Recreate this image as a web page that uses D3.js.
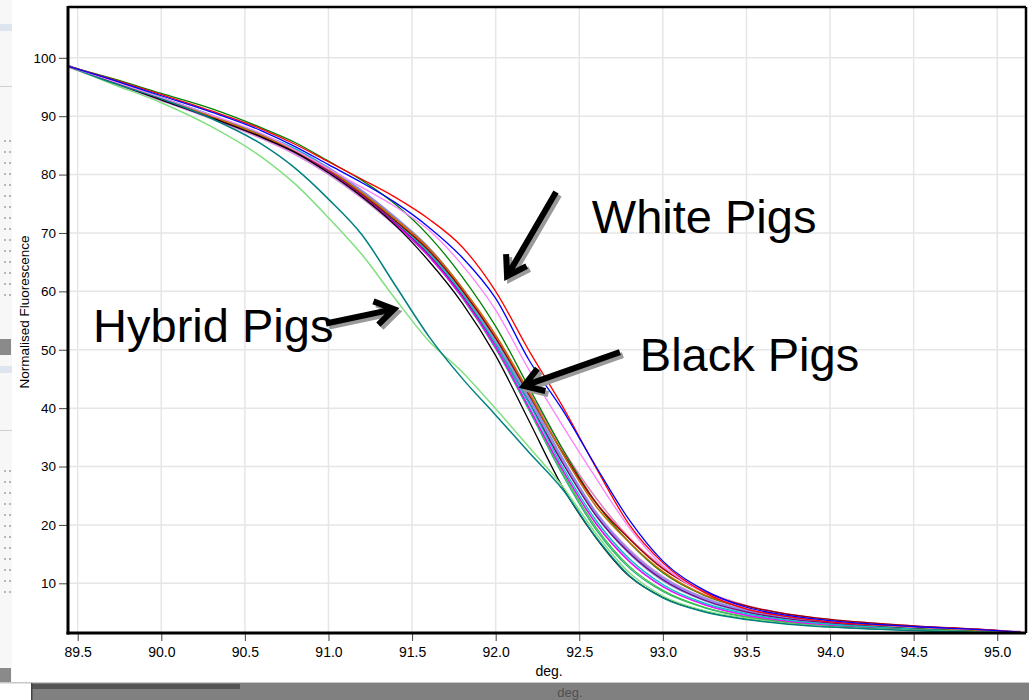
<!DOCTYPE html>
<html>
<head>
<meta charset="utf-8">
<script src="https://cdn.jsdelivr.net/npm/d3@7"></script>
<style>
  html, body { margin: 0; padding: 0; background: #ffffff; }
  svg { display: block; }
  text { font-family: "Liberation Sans", Arial, sans-serif; }
</style>
</head>
<body>
<svg id="chart" width="1029" height="700"></svg>
<script>
// ---------------- DATA ----------------
const temps = [89.44, 89.7, 90.0, 90.3, 90.6, 90.8, 91.0, 91.2, 91.4, 91.6, 91.8, 92.0,
               92.2, 92.4, 92.6, 92.8, 93.0, 93.25, 93.5, 93.75, 94.0, 94.5, 95.0, 95.14];

const xTicks = [89.5, 90.0, 90.5, 91.0, 91.5, 92.0, 92.5, 93.0, 93.5, 94.0, 94.5, 95.0];
const yTicks = [10, 20, 30, 40, 50, 60, 70, 80, 90, 100];

// White pigs
const whiteRed    = [98.6, 96.4, 93.7, 90.9, 87.8, 85.2, 82.2, 79.2, 76.1, 72.4, 67.6, 60.0, 49.8, 40.3, 29.8, 20.0, 13.5, 8.4, 5.6, 4.3, 3.4, 2.6, 1.9, 1.6];
const whiteBlue   = [98.6, 96.3, 93.5, 90.7, 87.5, 84.8, 81.7, 78.6, 75.2, 71.0, 65.8, 58.8, 48.2, 39.7, 30.0, 20.8, 13.8, 8.8, 5.9, 4.5, 3.6, 2.6, 1.9, 1.6];
const whiteViolet = [98.6, 96.1, 93.2, 90.2, 87.0, 84.2, 81.0, 77.8, 74.5, 70.5, 64.5, 56.8, 46.5, 37.0, 28.0, 19.5, 13.0, 8.4, 5.8, 4.4, 3.5, 2.5, 1.9, 1.6];

// Hybrid pigs
const hybridTeal  = [98.6, 95.8, 93.0, 89.6, 85.2, 81.1, 75.8, 69.7, 61.0, 52.3, 45.1, 38.8, 32.4, 26.1, 17.9, 11.3, 7.5, 5.1, 3.8, 3.0, 2.5, 1.9, 1.5, 1.4];
const hybridLight = [98.6, 95.6, 92.3, 88.2, 83.0, 78.4, 72.6, 66.3, 58.7, 51.5, 46.2, 39.9, 33.3, 26.6, 18.5, 11.8, 7.8, 5.3, 4.0, 3.1, 2.6, 2.0, 1.6, 1.5];

// Black pigs
const blackBrown   = [98.6, 96.0, 93.0, 90.0, 86.7, 84.1, 80.9, 76.9, 72.4, 67.4, 60.6, 52.5, 42.6, 32.2, 23.2, 17.0, 12.0, 8.0, 5.8, 4.4, 3.6, 2.5, 1.8, 1.6];
const blackBlack   = [98.6, 95.9, 92.8, 89.7, 86.4, 83.8, 80.3, 76.2, 71.3, 65.2, 58.0, 49.0, 37.8, 26.5, 17.8, 11.2, 7.6, 5.2, 3.9, 3.1, 2.6, 2.0, 1.6, 1.5];
const blackDarkRed = [98.6, 96.0, 92.9, 89.9, 86.6, 84.0, 80.8, 76.7, 72.1, 67.0, 60.2, 52.0, 42.3, 32.4, 23.8, 17.6, 12.5, 8.5, 6.1, 4.7, 3.8, 2.7, 1.9, 1.6];
const blackGreen   = [98.6, 96.5, 93.9, 91.3, 88.0, 85.5, 82.3, 79.0, 74.9, 69.5, 62.5, 54.0, 43.5, 33.0, 23.8, 17.0, 11.8, 7.9, 5.7, 4.3, 3.5, 2.4, 1.8, 1.6];
const blackCyan    = [98.6, 96.2, 93.2, 90.2, 86.9, 84.4, 81.0, 76.8, 72.0, 66.6, 59.6, 51.0, 40.8, 30.0, 20.8, 14.2, 9.8, 6.6, 4.8, 3.7, 3.0, 2.2, 1.7, 1.5];
const blackLavender= [98.6, 96.1, 93.1, 90.1, 86.8, 84.3, 81.1, 77.2, 72.6, 67.4, 60.4, 51.9, 41.8, 31.3, 22.0, 15.4, 10.8, 7.3, 5.3, 4.1, 3.3, 2.4, 1.8, 1.6];
const blackCorn    = [98.6, 96.0, 93.0, 89.9, 86.6, 84.0, 80.6, 76.5, 71.8, 66.2, 59.2, 50.6, 40.2, 29.5, 20.3, 13.8, 9.5, 6.4, 4.6, 3.6, 2.9, 2.1, 1.7, 1.5];
const blackPurple  = [98.6, 95.9, 92.9, 89.8, 86.5, 83.9, 80.5, 76.4, 71.7, 66.3, 59.3, 50.9, 40.9, 30.6, 21.6, 15.2, 10.6, 7.1, 5.1, 3.9, 3.2, 2.3, 1.7, 1.5];
const blackMagenta = [98.6, 95.9, 92.8, 89.7, 86.4, 83.8, 80.4, 76.3, 71.5, 66.0, 59.0, 50.4, 40.0, 29.4, 20.2, 13.7, 9.4, 6.3, 4.5, 3.5, 2.8, 2.1, 1.7, 1.5];
const blackPlum    = [98.6, 96.0, 92.9, 89.8, 86.5, 83.9, 80.5, 76.4, 71.8, 66.8, 60.2, 52.4, 42.9, 33.0, 24.6, 17.8, 12.8, 8.7, 6.2, 4.7, 3.8, 2.7, 1.9, 1.6];
const blackLilac   = [98.6, 95.9, 92.8, 89.7, 86.3, 83.6, 80.2, 76.1, 71.4, 66.2, 59.5, 51.2, 41.2, 31.0, 22.0, 15.6, 11.0, 7.4, 5.3, 4.1, 3.3, 2.4, 1.8, 1.6];
const blackSea     = [98.6, 96.1, 93.1, 90.0, 86.7, 84.1, 80.7, 76.5, 71.6, 66.0, 58.9, 50.2, 39.6, 28.6, 19.2, 12.6, 8.6, 5.8, 4.2, 3.3, 2.7, 2.0, 1.6, 1.5];
const blackLime    = [98.6, 96.2, 93.2, 90.1, 86.8, 84.2, 80.8, 76.6, 71.8, 66.3, 59.1, 50.3, 39.9, 29.0, 19.6, 12.9, 8.8, 5.9, 4.3, 3.4, 2.8, 2.0, 1.6, 1.5];
const blackSteel   = [98.6, 96.1, 93.1, 90.1, 86.8, 84.2, 80.9, 76.8, 72.1, 66.9, 60.0, 51.6, 41.4, 30.8, 21.6, 15.0, 10.4, 7.0, 5.0, 3.9, 3.2, 2.3, 1.7, 1.5];

const seriesList = [
  { values: blackLilac,    color: "#d08cd8", width: 3 },
  { values: blackLavender, color: "#8c8cf0", width: 2.5 },
  { values: blackPlum,     color: "#e080c0", width: 1.5 },
  { values: blackSteel,    color: "#7f9fcf", width: 1.3 },
  { values: blackSea,      color: "#20b080", width: 1.3 },
  { values: blackLime,     color: "#40c040", width: 1.3 },
  { values: blackCorn,     color: "#3399ff", width: 1.3 },
  { values: blackPurple,   color: "#800080", width: 1.3 },
  { values: blackMagenta,  color: "#ff00ff", width: 1.3 },
  { values: blackCyan,     color: "#00c0c0", width: 1.3 },
  { values: blackGreen,    color: "#008000", width: 1.3 },
  { values: blackDarkRed,  color: "#a00000", width: 1.5 },
  { values: blackBrown,    color: "#c07000", width: 1.5 },
  { values: blackBlack,    color: "#000000", width: 1.3 },
  { values: hybridLight,   color: "#80e080", width: 1.5 },
  { values: hybridTeal,    color: "#008080", width: 1.5 },
  { values: whiteViolet,   color: "#ff80ff", width: 1.3 },
  { values: whiteRed,      color: "#ff0000", width: 1.3 },
  { values: whiteBlue,     color: "#0000ff", width: 1.3 }
];

const annotations = [
  { label: "White Pigs",  tx: 92.575, ty: 70.0,  from: [92.361, 77.0], to: [92.068, 62.6] },
  { label: "Hybrid Pigs", tx: 89.592, ty: 51.3,  from: [90.985, 54.5], to: [91.392, 56.95] },
  { label: "Black Pigs",  tx: 92.862, ty: 46.35, from: [92.743, 49.6], to: [92.169, 43.8] }
];

// ---------------- DRAW ----------------
(function () {
const svg = d3.select("#chart");
const W = 1029, H = 700;
const pL = 68, pR = 1026, pT = 7, pB = 633;

const x = d3.scaleLinear().domain([89.442, 95.172]).range([pL, pR]);
const y = d3.scaleLinear().domain([1.49, 108.7]).range([pB, pT]);

// background artefacts of the surrounding window (left strip and bottom bar)
const bg = svg.append("g");
bg.append("rect").attr("x", 0).attr("y", 0).attr("width", 12).attr("height", 682).attr("fill", "#f7f7f7");
bg.append("rect").attr("x", 0).attr("y", 24).attr("width", 12).attr("height", 7).attr("fill", "#dde5ee");
bg.append("rect").attr("x", 0).attr("y", 86).attr("width", 12).attr("height", 1).attr("fill", "#d0d0d0");
bg.append("rect").attr("x", 0).attr("y", 339).attr("width", 11).attr("height", 16).attr("fill", "#8a8a8a");
bg.append("rect").attr("x", 0).attr("y", 366).attr("width", 12).attr("height", 7).attr("fill", "#dde5ee");
bg.append("rect").attr("x", 0).attr("y", 430).attr("width", 12).attr("height", 1).attr("fill", "#d0d0d0");
bg.append("rect").attr("x", 0).attr("y", 668).attr("width", 11).attr("height", 14).attr("fill", "#8a8a8a");
const dots = bg.append("g").attr("fill", "#b8b8b8");
[[140, 300], [470, 600]].forEach(([a, b]) => {
  for (let yy = a; yy <= b; yy += 11) {
    dots.append("rect").attr("x", 4).attr("y", yy).attr("width", 2).attr("height", 2);
    dots.append("rect").attr("x", 9).attr("y", yy).attr("width", 2).attr("height", 2);
  }
});
bg.append("rect").attr("x", 0).attr("y", 682).attr("width", W).attr("height", 1.5).attr("fill", "#c8c8c8");
bg.append("rect").attr("x", 32).attr("y", 683).attr("width", W - 32).attr("height", 17).attr("fill", "#808080");
bg.append("rect").attr("x", 32).attr("y", 684).attr("width", 208).attr("height", 5).attr("fill", "#555555");
bg.append("rect").attr("x", 31).attr("y", 683).attr("width", 1.5).attr("height", 17).attr("fill", "#444444");
bg.append("text").attr("x", 570).attr("y", 697).attr("text-anchor", "middle")
  .attr("font-size", 13).attr("fill", "#505050").text("deg.");

// grid
const grid = svg.append("g").attr("stroke", "#e6e6e6").attr("stroke-width", 1.5);
grid.selectAll("line.v").data(xTicks).enter().append("line").attr("class", "v")
  .attr("x1", d => x(d)).attr("x2", d => x(d)).attr("y1", pT).attr("y2", pB);
grid.selectAll("line.h").data(yTicks).enter().append("line").attr("class", "h")
  .attr("x1", pL).attr("x2", pR).attr("y1", d => y(d)).attr("y2", d => y(d));

// curves
svg.append("clipPath").attr("id", "clip").append("rect")
  .attr("x", pL).attr("y", pT).attr("width", pR - pL).attr("height", pB - pT);
const line = d3.line()
  .x((d, i) => x(temps[i]))
  .y(d => y(d))
  .curve(d3.curveMonotoneX);
const curves = svg.append("g").attr("clip-path", "url(#clip)");
curves.selectAll("path").data(seriesList).enter().append("path")
  .attr("d", s => line(s.values))
  .attr("fill", "none")
  .attr("stroke", s => s.color)
  .attr("stroke-width", s => s.width)
  .attr("stroke-linejoin", "round");

// axes
const fontFam = '"Liberation Sans", Arial, sans-serif';
const yAxis = svg.append("g").attr("transform", `translate(${pL},0)`)
  .call(d3.axisLeft(y).tickValues(yTicks).tickSize(9).tickPadding(3).tickFormat(d3.format("d")));
yAxis.select(".domain").remove();
yAxis.selectAll(".tick line").attr("stroke", "#444");
yAxis.selectAll(".tick text").attr("font-size", 13.5).attr("fill", "#000").attr("font-family", fontFam);

const xAxis = svg.append("g").attr("transform", `translate(0,${pB})`)
  .call(d3.axisBottom(x).tickValues(xTicks).tickSize(8).tickPadding(6).tickFormat(d3.format(".1f")));
xAxis.select(".domain").remove();
xAxis.selectAll(".tick line").attr("stroke", "#444");
xAxis.selectAll(".tick text").attr("font-size", 14).attr("fill", "#000").attr("font-family", fontFam);

// frame
svg.append("line").attr("x1", pL).attr("x2", pR).attr("y1", pT).attr("y2", pT).attr("stroke", "#000").attr("stroke-width", 2.5);
svg.append("line").attr("x1", pR).attr("x2", pR).attr("y1", pT).attr("y2", pB).attr("stroke", "#000").attr("stroke-width", 2.5);
svg.append("line").attr("x1", pL).attr("x2", pL).attr("y1", pT - 1).attr("y2", pB + 1.5).attr("stroke", "#000").attr("stroke-width", 3);
svg.append("line").attr("x1", pL - 1.5).attr("x2", pR).attr("y1", pB).attr("y2", pB).attr("stroke", "#000").attr("stroke-width", 3);

// axis titles
svg.append("text").attr("transform", "translate(29,312) rotate(-90)").attr("text-anchor", "middle")
  .attr("font-size", 13.5).attr("fill", "#000").text("Normalised Fluorescence");
svg.append("text").attr("x", 549).attr("y", 676).attr("text-anchor", "middle")
  .attr("font-size", 14).attr("fill", "#000").text("deg.");

// annotations
function arrowPath(x1, y1, x2, y2) {
  const ang = Math.atan2(y2 - y1, x2 - x1);
  const len = 22, spread = Math.PI / 5.5;
  const ax = x2 - len * Math.cos(ang - spread), ay = y2 - len * Math.sin(ang - spread);
  const bx = x2 - len * Math.cos(ang + spread), by = y2 - len * Math.sin(ang + spread);
  return `M${x1},${y1}L${x2},${y2}M${ax},${ay}L${x2},${y2}L${bx},${by}`;
}
const ann = svg.append("g");
annotations.forEach(a => {
  const p = arrowPath(x(a.from[0]), y(a.from[1]), x(a.to[0]), y(a.to[1]));
  ann.append("path").attr("d", p).attr("transform", "translate(3,3)")
    .attr("fill", "none").attr("stroke", "#9a9a9a").attr("stroke-width", 6).attr("stroke-linejoin", "miter");
  ann.append("path").attr("d", p)
    .attr("fill", "none").attr("stroke", "#000").attr("stroke-width", 6).attr("stroke-linejoin", "miter");
  ann.append("text").attr("x", x(a.tx)).attr("y", y(a.ty))
    .attr("font-size", 47).attr("fill", "#000").text(a.label);
});
})();
</script>
</body>
</html>
